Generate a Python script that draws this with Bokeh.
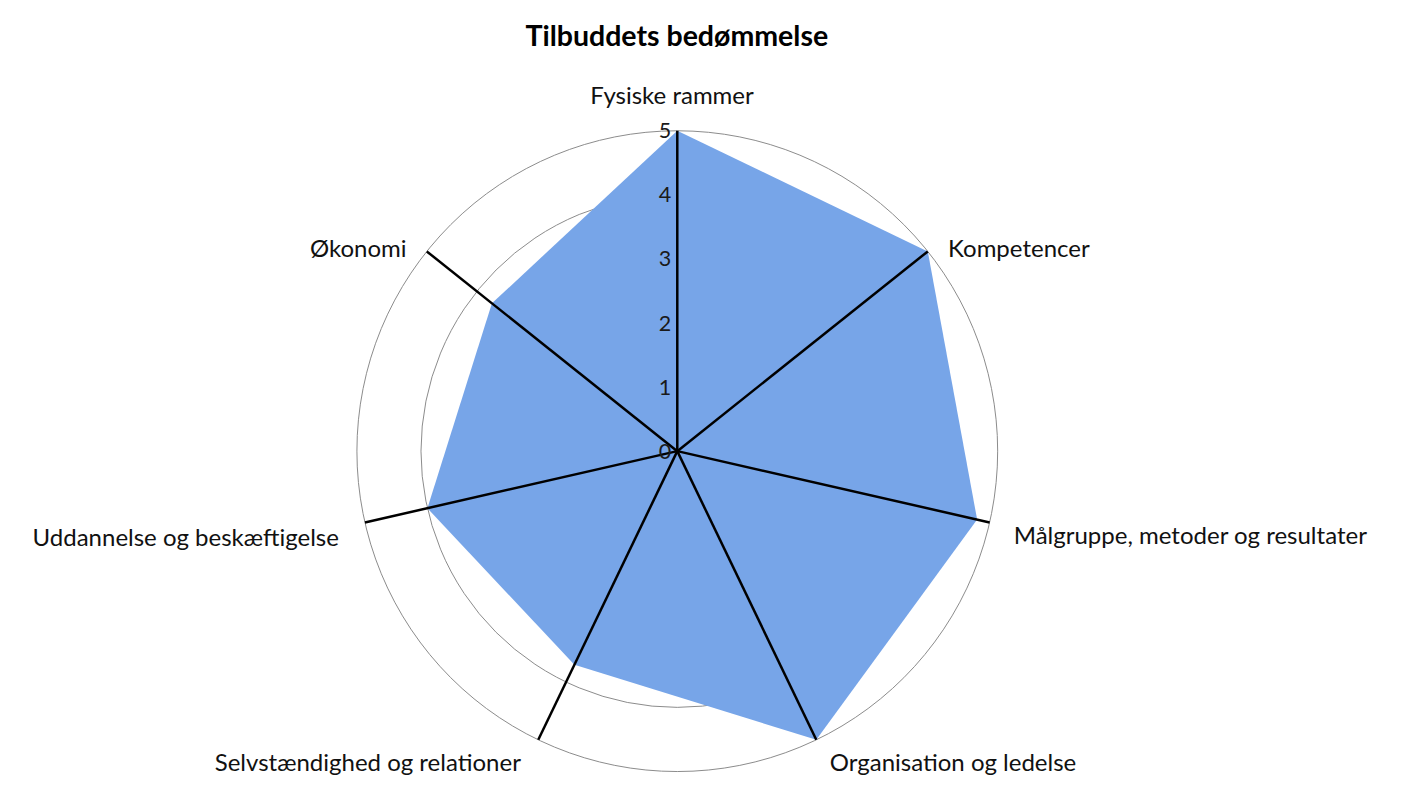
import numpy as np
from bokeh.plotting import figure
from bokeh.models import Range1d, ColumnDataSource
from bokeh.core.properties import value
from bokeh.embed import file_html
from bokeh.resources import INLINE

# ---------------- data ----------------
title_text = "Tilbuddets bedømmelse"
categories = [
    "Fysiske rammer",
    "Kompetencer",
    "Målgruppe, metoder og resultater",
    "Organisation og ledelse",
    "Selvstændighed og relationer",
    "Uddannelse og beskæftigelse",
    "Økonomi",
]
scores = [5, 5, 4.8, 5, 3.7, 4, 3.7]
tick_values = [0, 1, 2, 3, 4, 5]
tick_labels = ["0", "1", "2", "3", "4", "5"]
grid_rings = [1, 2, 3, 4, 5]
r_max = 5

# ---------------- layout (pixels) ----------------
W, H = 1397, 785
K = 0.965                          # scale from reference pixels to figure pixels
XSHIFT = (W - 1413 * K) / 2
S = 66.4 * K                       # pixels per value unit
CX, CY = 684 * K + XSHIFT, 467 * K  # centre of the radar in figure pixels
# label offsets from the spoke end, reference pixels (dx right, dy down), alignment
label_layout = [
    (-5.5, -38, "center"),
    (21, -4, "left"),
    (25, 13, "left"),
    (14, 22, "left"),
    (-18, 22, "right"),
    (-27, 15, "right"),
    (-21, -4, "right"),
]
FONT = "Lato"
FILL = "#77A5E8"

n = len(categories)
ang = np.pi / 2 - np.arange(n) * 2 * np.pi / n
ux, uy = np.cos(ang), np.sin(ang)

p = figure(
    width=W, height=H, output_backend="svg", toolbar_location=None,
    x_range=Range1d(-CX / S, (W - CX) / S),
    y_range=Range1d(-(H - CY) / S, CY / S),
    min_border=0, outline_line_color=None,
)
p.axis.visible = False
p.grid.visible = False
p.background_fill_color = "white"
p.border_fill_color = "white"

# grid rings
p.circle(x=[0] * len(grid_rings), y=[0] * len(grid_rings), radius=grid_rings,
         fill_color=None, line_color="#8c8c8c", line_width=1)

# filled series
sx = list(np.array(scores) * ux)
sy = list(np.array(scores) * uy)
p.patch(sx, sy, fill_color=FILL, line_color=None)

# spokes
p.segment(x0=[0] * n, y0=[0] * n, x1=list(r_max * ux), y1=list(r_max * uy),
          line_color="black", line_width=2.5)

# radial tick labels
p.text(x=[-6 / S] * len(tick_values), y=tick_values, text=tick_labels,
       text_align="right", text_baseline="middle", text_font=value(FONT),
       text_font_size="21.5px", text_color="#1a1a1a")

# category labels
lx, ly, la = [], [], []
for i, (dx, dy, al) in enumerate(label_layout):
    lx.append(r_max * ux[i] + dx * K / S)
    ly.append(r_max * uy[i] - dy * K / S)
    la.append(al)
src = ColumnDataSource(dict(x=lx, y=ly, t=categories, a=la))
p.text(x="x", y="y", text="t", text_align="a", text_baseline="alphabetic",
       source=src, text_font=value(FONT), text_font_size="24px",
       text_color="#111111")

# title
p.text(x=[(683.5 * K + XSHIFT - CX) / S], y=[(CY - 36 * K) / S], text=[title_text],
       text_align="center", text_baseline="alphabetic", text_font=value(FONT),
       text_font_size="28.5px", text_font_style="bold", text_color="#000000")

open("out.html", "w").write(file_html(p, INLINE))
